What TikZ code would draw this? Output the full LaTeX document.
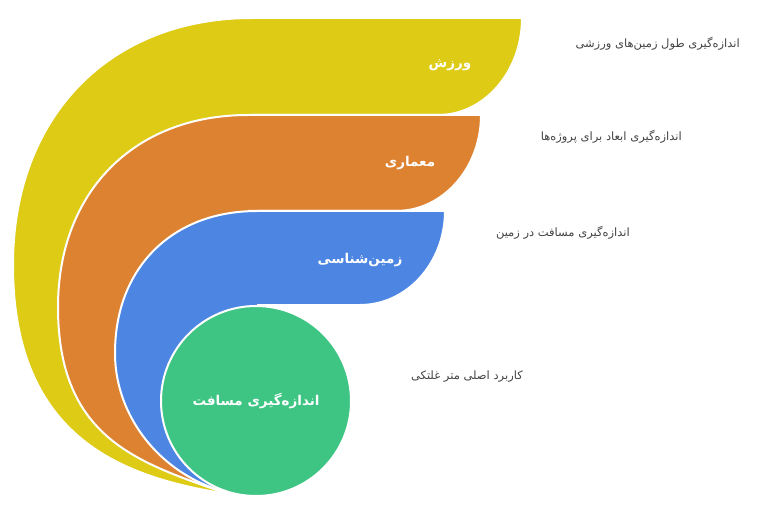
\documentclass[tikz,border=0pt]{standalone}
\usepackage{fontspec}
\TeXXeTstate=1
\newfontfamily\arabicfont[Script=Arabic]{DejaVu Sans}
\definecolor{cyel}{HTML}{DDCB16}
\definecolor{corg}{HTML}{DD8231}
\definecolor{cblu}{HTML}{4D86E2}
\definecolor{cgrn}{HTML}{3EC583}
\definecolor{ctxt}{HTML}{444444}
\begin{document}
\begin{tikzpicture}[x=1pt,y=-1pt,
  band/.style={draw=white, line width=2pt, line join=round},
  wlab/.style={text=white, inner sep=0pt, font=\arabicfont\bfseries\fontsize{13.5}{16}\selectfont},
  glab/.style={text=ctxt, anchor=east, inner sep=0pt, font=\arabicfont\fontsize{11.5}{14}\selectfont}]
\useasboundingbox (0,0) rectangle (777,516);
% yellow
\fill[cyel] (228,494) .. controls (125,478) and (13,440) .. (13,265)
  .. controls (13,117) and (109,18) .. (252,18) -- (522,18)
  arc[start angle=0, end angle=90, x radius=84, y radius=97]
  -- (252,115) -- (252,400) -- cycle;
\draw[band] (228,494) .. controls (125,478) and (13,440) .. (13,265)
  .. controls (13,117) and (109,18) .. (252,18) -- (522,18)
  arc[start angle=0, end angle=90, x radius=84, y radius=97]
  -- (252,115);
% orange
\fill[corg] (228,494) .. controls (140,463) and (58,440) .. (58,307)
  .. controls (58,192) and (134,115) .. (248,115) -- (481,115)
  arc[start angle=0, end angle=90, x radius=85, y radius=96]
  -- (248,211) -- (248,400) -- cycle;
\draw[band] (228,494) .. controls (140,463) and (58,440) .. (58,307)
  .. controls (58,192) and (134,115) .. (248,115) -- (481,115)
  arc[start angle=0, end angle=90, x radius=85, y radius=96]
  -- (248,211);
% blue
\fill[cblu] (230,493) .. controls (165,478) and (115,420) .. (115,353)
  .. controls (115,268) and (172,211) .. (257,211) -- (445,211)
  arc[start angle=0, end angle=90, x radius=85, y radius=94]
  -- (257,305) -- (257,400) -- cycle;
\draw[band] (230,493) .. controls (165,478) and (115,420) .. (115,353)
  .. controls (115,268) and (172,211) .. (257,211) -- (445,211)
  arc[start angle=0, end angle=90, x radius=85, y radius=94]
  -- (257,305);
% green
\node[circle, fill=cgrn, draw=white, line width=2pt, minimum size=190pt, inner sep=0pt] (g) at (256,401) {};
% white labels
\node[wlab] (t1) at (450,65) {\beginR ورزش\endR};
\node[wlab] (t2) at (410,163) {\beginR معماری\endR};
\node[wlab] (t3) at (360,260) {\beginR زمین‌شناسی\endR};
\node[wlab] (t4) at (g.center) {\beginR اندازه‌گیری مسافت\endR};
% gray labels
\node[glab] (d1) at (740,44) {\beginR اندازه‌گیری طول زمین‌های ورزشی\endR};
\node[glab] (d2) at (682,137) {\beginR اندازه‌گیری ابعاد برای پروژه‌ها\endR};
\node[glab] (d3) at (630,233) {\beginR اندازه‌گیری مسافت در زمین\endR};
\node[glab] (d4) at (523,377) {\beginR کاربرد اصلی متر غلتکی\endR};
\end{tikzpicture}
\end{document}
